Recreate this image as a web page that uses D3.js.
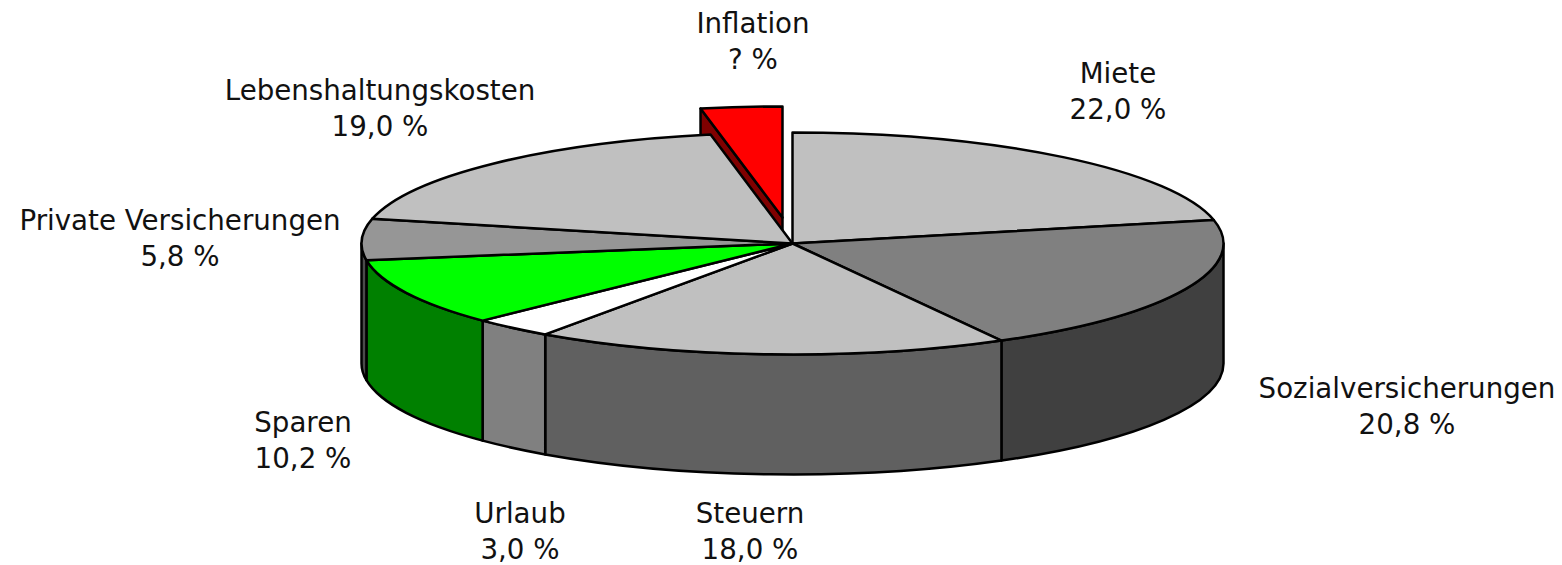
<!DOCTYPE html>
<html>
<head>
<meta charset="utf-8">
<script src="https://d3js.org/d3.v7.min.js"></script>
<style>
	html, body { margin: 0; padding: 0; background: #fff; }
	svg { display: block; }
	text { font-family: "DejaVu Sans", Verdana, sans-serif; font-size: 27.7px; fill: #111; }
</style>
</head>
<body>
<div id="chart"></div>
<script>

// categories and the texts printed beside them
const categories = ["Miete", "Sozialversicherungen", "Steuern", "Urlaub", "Sparen", "Private Versicherungen", "Lebenshaltungskosten", "Inflation"];
const shownValues = ["22,0 %", "20,8 %", "18,0 %", "3,0 %", "10,2 %", "5,8 %", "19,0 %", "? %"];

// slice sizes as measured on the picture (they differ a little from the printed numbers)
const sliceValues = [22.0, 20.7, 18.1, 3.1, 10.0, 6.1, 18.7, 3.1];

const topColors = ["#c0c0c0", "#808080", "#c0c0c0", "#ffffff", "#00ff00", "#969696", "#c0c0c0", "#ff0000"];

// label centres, first line baseline
const labelX = [1118, 1407, 750, 520, 303, 180, 380, 753];
const labelY = [83, 398, 523, 523, 432, 230, 100, 33];

const width = 1562, height = 565;
const cx = 792.5, cy = 243.5, rx = 431, ry = 111, depth = 120;
const lineGap = 35.7;
const strokeW = 2.5;

// inflation slice is pulled out of the pie
const explode = {x: -10, y: -26};

const svg = d3.select("#chart").append("svg")
	.attr("width", width)
	.attr("height", height);

// unit circle -> flattened ellipse
const xScale = d3.scaleLinear().domain([-1, 1]).range([cx - rx, cx + rx]);
const yScale = d3.scaleLinear().domain([-1, 1]).range([cy - ry, cy + ry]);

const colorScale = d3.scaleOrdinal().domain(categories).range(topColors);

const pie = d3.pie().sort(null).value(d => d.value);
const slices = pie(categories.map((name, i) => ({name: name, value: sliceValues[i]})));

function px(a) { return xScale(Math.sin(a)); }
function py(a) { return yScale(-Math.cos(a)); }

function arcTo(a0, a1, dy, sweep) {
	let large = Math.abs(a1 - a0) > Math.PI ? 1 : 0;
	return "A" + rx + " " + ry + " 0 " + large + " " + sweep + " " + px(a1) + " " + (py(a1) + dy);
}

function topPath(d) {
	return "M" + cx + " " + cy +
		"L" + px(d.startAngle) + " " + py(d.startAngle) +
		arcTo(d.startAngle, d.endAngle, 0, 1) + "Z";
}

// outer wall, only the part that faces the viewer
function sidePath(d) {
	let a0 = Math.max(d.startAngle, Math.PI / 2);
	let a1 = Math.min(d.endAngle, Math.PI * 1.5);
	if (a1 <= a0) return null;
	return "M" + px(a0) + " " + py(a0) +
		arcTo(a0, a1, 0, 1) +
		"L" + px(a1) + " " + (py(a1) + depth) +
		arcTo(a1, a0, depth, 0) + "Z";
}

// cut face of the pulled out slice
function cutPath(a) {
	return "M" + cx + " " + cy +
		"L" + px(a) + " " + py(a) +
		"L" + px(a) + " " + (py(a) + depth) +
		"L" + cx + " " + (cy + depth) + "Z";
}

// walls are the top colour at half brightness
function halfColor(c) {
	let rgb = d3.rgb(c);
	return d3.rgb(rgb.r / 2, rgb.g / 2, rgb.b / 2).formatHex();
}

function drawPaths(group, cls, data, pathFn, fillFn) {
	group.selectAll("." + cls)
		.data(data)
		.enter().append("path")
		.attr("class", cls)
		.attr("d", pathFn)
		.attr("fill", fillFn)
		.attr("stroke", "#000")
		.attr("stroke-width", strokeW)
		.attr("stroke-linejoin", "round");
}

const mainSlices = slices.filter(d => d.data.name !== "Inflation");
const outSlice = slices.filter(d => d.data.name === "Inflation");

const topFill = d => colorScale(d.data.name);
const sideFill = d => halfColor(colorScale(d.data.name));

// pulled out slice goes first, the pie covers the lower part of it
const outGroup = svg.append("g")
	.attr("transform", "translate(" + explode.x + "," + explode.y + ")");

drawPaths(outGroup, "cut", outSlice, d => cutPath(d.startAngle), sideFill);
drawPaths(outGroup, "top", outSlice, topPath, topFill);

const pieGroup = svg.append("g");

drawPaths(pieGroup, "side", mainSlices.filter(d => sidePath(d) !== null), sidePath, sideFill);
drawPaths(pieGroup, "top", mainSlices, topPath, topFill);

// labels, two lines each
const labels = svg.selectAll(".label")
	.data(categories)
	.enter().append("text")
	.attr("class", "label")
	.attr("text-anchor", "middle")
	.attr("x", (d, i) => labelX[i])
	.attr("y", (d, i) => labelY[i]);

labels.append("tspan")
	.attr("x", (d, i) => labelX[i])
	.text(d => d);

labels.append("tspan")
	.attr("x", (d, i) => labelX[i])
	.attr("dy", lineGap)
	.text((d, i) => shownValues[i]);

</script>
</body>
</html>
